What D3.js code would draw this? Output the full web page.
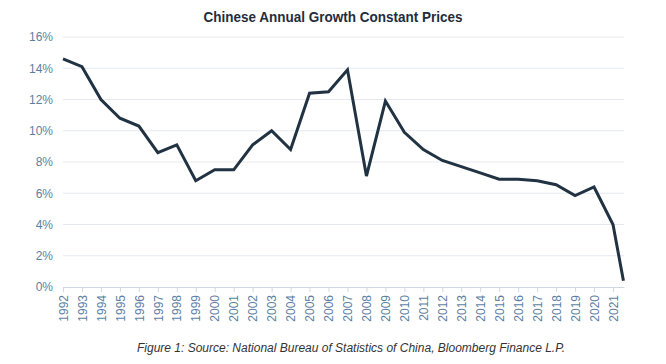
<!DOCTYPE html>
<html>
<head>
<meta charset="utf-8">
<script src="https://cdn.jsdelivr.net/npm/d3@7"></script>
<style>
  body { margin: 0; background: #fff; }
  svg { display: block; }
</style>
</head>
<body>
<svg id="chart" width="666" height="364"></svg>
<script>
// Annual real GDP growth, % (last point is a partial-year reading)
const years = [1992, 1993, 1994, 1995, 1996, 1997, 1998, 1999, 2000, 2001,
  2002, 2003, 2004, 2005, 2006, 2007, 2008, 2009, 2010, 2011,
  2012, 2013, 2014, 2015, 2016, 2017, 2018, 2019, 2020, 2021, 2021.55]
const growth = [14.6, 14.1, 12.0, 10.8, 10.3, 8.6, 9.1, 6.8, 7.5, 7.5,
  9.1, 10.0, 8.8, 12.4, 12.5, 13.9, 7.1, 11.9, 9.9, 8.8,
  8.1, 7.7, 7.3, 6.9, 6.9, 6.8, 6.55, 5.85, 6.4, 4.0, 0.4]
const yearTicks = d3.range(1992, 2022)
const pctTicks = [0, 2, 4, 6, 8, 10, 12, 14, 16]

const W = 666, H = 364
const margin = { top: 37, right: 42, bottom: 77, left: 63 }

const svg = d3.select('#chart')

const x = d3.scaleLinear()
  .domain([1992, 2021.58])
  .range([margin.left, W - margin.right])
const y = d3.scaleLinear()
  .domain([0, 16])
  .range([H - margin.bottom, margin.top])

// Title (condensed look via textLength, no narrow font installed)
svg.append('text')
  .attr('x', W / 2)
  .attr('y', 22)
  .attr('text-anchor', 'middle')
  .attr('textLength', 259)
  .attr('lengthAdjust', 'spacingAndGlyphs')
  .style('font-family', 'Arial, "Liberation Sans", sans-serif')
  .style('font-weight', 'bold')
  .style('font-size', '15px')
  .style('fill', '#1f2d3d')
  .text('Chinese Annual Growth Constant Prices')

// Gridlines
svg.append('g')
  .selectAll('line')
  .data(pctTicks.filter(d => d > 0))
  .join('line')
  .attr('x1', margin.left)
  .attr('x2', W - margin.right)
  .attr('y1', d => y(d))
  .attr('y2', d => y(d))
  .attr('stroke', '#e5e9ee')
  .attr('stroke-width', 1)

// Y axis labels
const yAxis = svg.append('g')
  .attr('transform', `translate(${margin.left},0)`)
  .call(d3.axisLeft(y).tickValues(pctTicks).tickFormat(d => d + '%').tickSize(0).tickPadding(10))
yAxis.select('.domain').remove()
yAxis.selectAll('text')
  .style('font-family', 'Arial, "Liberation Sans", sans-serif')
  .style('font-size', '12px')
  .style('fill', '#5b7fa3')

// X axis
const xAxis = svg.append('g')
  .attr('transform', `translate(0,${y(0)})`)
  .call(d3.axisBottom(x).tickValues(yearTicks).tickFormat(d3.format('d')).tickSize(5).tickSizeOuter(0))
xAxis.select('.domain').attr('stroke', '#cfd8e2')
xAxis.selectAll('.tick line').attr('stroke', '#cfd8e2')
xAxis.selectAll('text')
  .style('font-family', 'Arial, "Liberation Sans", sans-serif')
  .style('font-size', '12px')
  .style('fill', '#5b7fa3')
  .attr('transform', 'rotate(-90)')
  .attr('text-anchor', 'end')
  .attr('x', -8)
  .attr('y', 0)
  .attr('dy', '0.35em')

// Line
const line = d3.line()
  .x((d, i) => x(years[i]))
  .y(d => y(d))
svg.append('path')
  .datum(growth)
  .attr('fill', 'none')
  .attr('stroke', '#213243')
  .attr('stroke-width', 3)
  .attr('stroke-linejoin', 'miter')
  .attr('d', line)

// Caption
svg.append('text')
  .attr('x', 351)
  .attr('y', 352)
  .attr('text-anchor', 'middle')
  .style('font-family', 'Arial, "Liberation Sans", sans-serif')
  .style('font-style', 'italic')
  .style('font-size', '12px')
  .style('fill', '#333')
  .text('Figure 1: Source: National Bureau of Statistics of China, Bloomberg Finance L.P.')
</script>
</body>
</html>
